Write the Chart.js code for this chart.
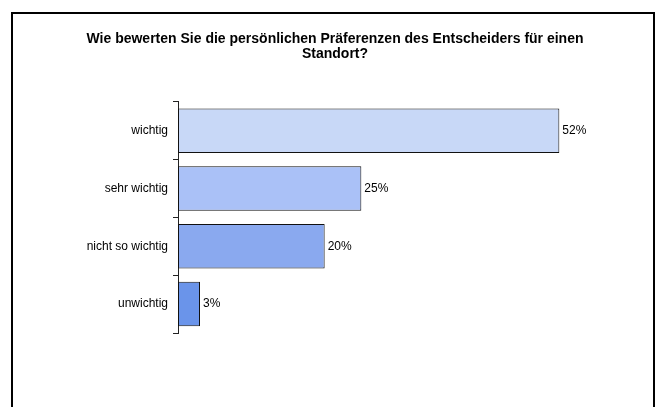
<!DOCTYPE html>
<html>
<head>
<meta charset="utf-8">
<script src="https://cdn.jsdelivr.net/npm/chart.js@4/dist/chart.umd.min.js"></script>
<style>
  html, body { margin: 0; padding: 0; background: #fff; }
  body { width: 660px; height: 407px; position: relative; overflow: hidden; }
  #frame {
    position: absolute; left: 11px; top: 12px; width: 644px; height: 460px;
    box-sizing: border-box; border: 2px solid #000;
  }
  #wrap { position: absolute; left: 15px; top: 14px; width: 640px; height: 393px; }
</style>
</head>
<body>
<div id="frame"></div>
<div id="wrap"><canvas id="chart"></canvas></div>
<script>
// Survey answers and their shares (percent)
const categories = ['wichtig', 'sehr wichtig', 'nicht so wichtig', 'unwichtig'];
const shares = [52, 25, 20, 3];
const barColors = ['#C8D8F7', '#AAC1F7', '#8AA9EF', '#6A94EA'];
const titleLines = [
  'Wie bewerten Sie die persönlichen Präferenzen des Entscheiders für einen',
  'Standort?'
];

// Writes the percentage just right of each bar
const valueLabels = {
  id: 'valueLabels',
  afterDatasetsDraw(chart) {
    const ctx = chart.ctx;
    const meta = chart.getDatasetMeta(0);
    ctx.save();
    ctx.font = '12px "Liberation Sans", Arial, sans-serif';
    ctx.fillStyle = '#000';
    ctx.textAlign = 'left';
    ctx.textBaseline = 'middle';
    meta.data.forEach((bar, i) => {
      ctx.fillText(shares[i] + '%', bar.x + 3, bar.y);
    });
    ctx.restore();
  }
};

new Chart(document.getElementById('chart'), {
  type: 'bar',
  data: {
    labels: categories,
    datasets: [{
      data: shares,
      backgroundColor: barColors,
      borderColor: '#111',
      borderWidth: 1,
      borderSkipped: false,
      barPercentage: 0.77,
      categoryPercentage: 1
    }]
  },
  options: {
    indexAxis: 'y',
    responsive: true,
    maintainAspectRatio: false,
    animation: false,
    events: [],
    layout: { padding: { left: 37, right: 37, top: 0, bottom: 74 } },
    plugins: {
      legend: { display: false },
      tooltip: { enabled: false },
      title: {
        display: true,
        text: titleLines,
        color: '#000',
        font: { family: '"Liberation Sans", Arial, sans-serif', size: 14, weight: 'bold', lineHeight: 1.1 },
        padding: { top: 17, bottom: 40 }
      }
    },
    scales: {
      x: {
        display: false,
        min: 0,
        max: 60
      },
      y: {
        afterFit(scale) { scale.width = 126; },
        border: { display: true, color: '#222', width: 1 },
        grid: {
          offset: true,
          drawOnChartArea: false,
          drawTicks: true,
          tickLength: 5,
          color: '#222'
        },
        ticks: {
          color: '#000',
          padding: 5,
          font: { family: '"Liberation Sans", Arial, sans-serif', size: 12 }
        }
      }
    }
  },
  plugins: [valueLabels]
});
</script>
</body>
</html>
